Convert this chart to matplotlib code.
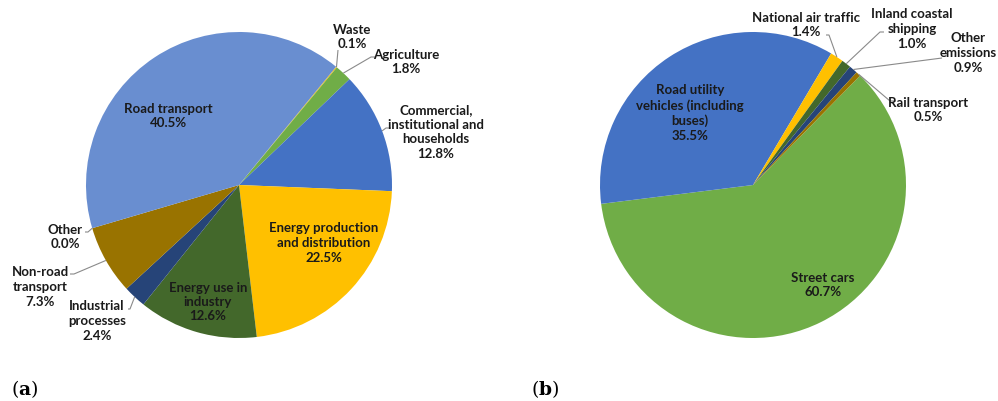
import numpy as np
import matplotlib
matplotlib.use("Agg")
import matplotlib.pyplot as plt

# (a) emissions by sector, listed clockwise
sector_names = ["Waste", "Agriculture", "Commercial,\ninstitutional and\nhouseholds",
                "Energy production\nand distribution", "Energy use in\nindustry",
                "Industrial\nprocesses", "Non-road\ntransport", "Other", "Road transport"]
sector_share = [0.1, 1.8, 12.8, 22.5, 12.6, 2.4, 7.3, 0.0, 40.5]
sector_colors = ["#FFC000", "#70AD47", "#4472C4", "#FFC000", "#43682B",
                 "#264478", "#997300", "#A5A5A5", "#698ED0"]

# (b) transport emissions by mode, listed clockwise
mode_names = ["Street cars", "Road utility\nvehicles (including\nbuses)",
              "National air traffic", "Inland coastal\nshipping", "Other\nemissions",
              "Rail transport"]
mode_share = [60.7, 35.5, 1.4, 1.0, 0.9, 0.5]
mode_colors = ["#70AD47", "#4472C4", "#FFC000", "#43682B", "#264478", "#997300"]

W, H = 998, 401
TXT = "#1a1a1a"
LEAD = "#8a8a8a"
FONT = "Lato"


def px(x, y):
    return x, H - y


fig = plt.figure(figsize=(W / 100, H / 100), dpi=100)
ax = fig.add_axes([0, 0, 1, 1])
ax.set_xlim(0, W)
ax.set_ylim(0, H)
ax.set_aspect("equal")
ax.axis("off")


def draw_pie(values, colors, center, start):
    wedges, _ = ax.pie(values, colors=colors, startangle=start, counterclock=False,
                       center=px(*center), radius=153, frame=True,
                       wedgeprops=dict(linewidth=0))
    return wedges


def edge_point(w):
    a = np.deg2rad((w.theta1 + w.theta2) / 2)
    return w.center[0] + w.r * np.cos(a), w.center[1] + w.r * np.sin(a)


def label(w, name, val, pos, lead=None):
    ax.text(*px(*pos), f"{name}\n{val:.1f}%", ha="center", va="center",
            ma="center", fontsize=9.5, fontweight="bold", family=FONT,
            color=TXT, linespacing=1.25)
    if lead:
        pts = [px(*p) for p in lead] + [edge_point(w)]
        xs, ys = zip(*pts)
        ax.plot(xs, ys, color=LEAD, lw=0.8, solid_capstyle="butt")


left = draw_pie(sector_share, sector_colors, (239, 185), 50.6)
left_pos = [(352, 37), (406, 62), (436, 132), (324, 243), (208, 302),
            (97, 321), (40, 287), (65, 237), (168, 116)]
left_lead = [[(338, 50)], [(376, 57), (371, 57)], [(391, 128), (386, 128)], None, None,
             [(128, 309), (130, 309)], [(70, 274), (74, 274)], [(85, 232), (88, 232)], None]
for w, n, v, p, l in zip(left, sector_names, sector_share, left_pos, left_lead):
    label(w, n, v, p, l)

right = draw_pie(mode_share, mode_colors, (753, 185), 45.6)
right_pos = [(823, 285), (690, 113), (806, 25), (912, 29), (968, 53), (928, 110)]
right_lead = [None, None, [(826, 35), (829, 35)], [(884, 32), (880, 32)],
              [(942, 58)], [(896, 101), (890, 101)]]
for w, n, v, p, l in zip(right, mode_names, mode_share, right_pos, right_lead):
    label(w, n, v, p, l)

# restore the pixel frame after ax.pie
ax.set_xlim(0, W)
ax.set_ylim(0, H)
ax.axis("off")

plt.rcParams["mathtext.fontset"] = "dejavuserif"
ax.text(*px(11, 389), r"($\mathbf{a}$)", family="DejaVu Serif", fontsize=13.5,
        va="center", ha="left", color="black")
ax.text(*px(531, 389), r"($\mathbf{b}$)", family="DejaVu Serif", fontsize=13.5,
        va="center", ha="left", color="black")

fig.savefig("out.png", dpi=100)
